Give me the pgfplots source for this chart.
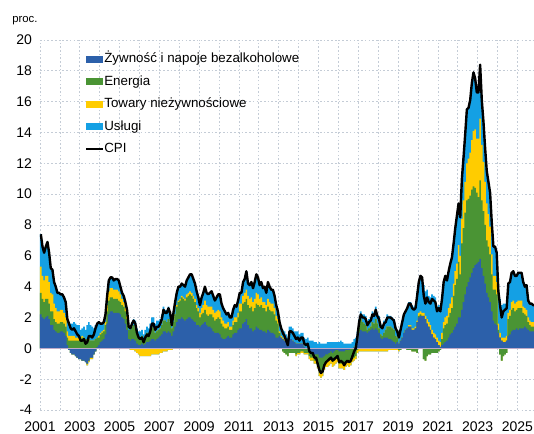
\documentclass[border=0pt]{standalone}
\usepackage{fontspec}
\setmainfont{Liberation Sans}
\usepackage{pgfplots}
\usepackage{pgfplotstable}
\pgfplotsset{compat=1.18}

\definecolor{food}{RGB}{44,96,170}
\definecolor{energy}{RGB}{74,148,52}
\definecolor{goods}{RGB}{255,204,0}
\definecolor{serv}{RGB}{20,160,228}
\definecolor{gridc}{RGB}{196,204,214}
\definecolor{zeroc}{RGB}{190,170,200}

% monthly contributions (p.p.), m = months since Jan 2001
% f food, e energy, g non-food goods, s services, c CPI y/y
\pgfplotstableread{
m f e g s c
0 2.2 1.4 1.7 2.1 7.4
1 2.0 1.2 1.5 1.9 6.6
2 1.9 1.1 1.4 1.8 6.2
3 2.0 1.2 1.5 1.9 6.6
4 2.1 1.1 1.5 2.2 6.9
5 1.9 1.0 1.4 1.9 6.2
6 1.5 0.9 1.2 1.6 5.2
7 1.5 0.9 1.1 1.6 5.1
8 1.2 0.7 1.0 1.4 4.3
9 1.1 0.6 0.9 1.4 4.0
10 1.0 0.6 0.8 1.2 3.6
11 1.0 0.6 0.8 1.2 3.6
12 1.1 0.6 0.8 1.0 3.5
13 1.1 0.6 0.8 1.0 3.5
14 1.0 0.6 0.7 1.0 3.3
15 0.8 0.6 0.6 1.0 3.0
16 0.2 0.5 0.4 0.8 1.9
17 -0.1 0.5 0.3 0.9 1.6
18 -0.3 0.5 0.3 0.8 1.3
19 -0.4 0.5 0.3 0.8 1.2
20 -0.4 0.5 0.3 0.9 1.3
21 -0.5 0.5 0.2 0.9 1.1
22 -0.6 0.5 0.2 0.8 0.9
23 -0.7 0.5 0.2 0.8 0.8
24 -0.7 0.6 0.1 0.5 0.5
25 -0.8 0.7 0.1 0.5 0.5
26 -0.8 0.7 0.0 0.7 0.6
27 -0.9 0.6 0.0 0.6 0.3
28 -1.0 0.6 -0.1 0.9 0.4
29 -0.8 0.6 -0.1 1.1 0.8
30 -0.6 0.5 -0.1 1.0 0.8
31 -0.6 0.5 -0.1 0.9 0.7
32 -0.4 0.5 0.0 0.8 0.9
33 -0.2 0.6 0.0 0.9 1.3
34 0.1 0.6 0.0 0.9 1.6
35 0.2 0.5 0.1 0.9 1.7
36 0.4 0.5 0.1 0.6 1.6
37 0.5 0.5 0.1 0.5 1.6
38 0.6 0.5 0.1 0.5 1.7
39 0.9 0.6 0.2 0.5 2.2
40 1.6 0.8 0.4 0.6 3.4
41 2.2 0.9 0.6 0.7 4.4
42 2.4 0.9 0.6 0.7 4.6
43 2.4 0.9 0.6 0.7 4.6
44 2.3 0.9 0.6 0.6 4.4
45 2.3 0.9 0.6 0.7 4.5
46 2.3 0.9 0.6 0.7 4.5
47 2.3 0.8 0.6 0.7 4.4
48 2.2 0.8 0.5 0.5 4.0
49 2.0 0.8 0.4 0.4 3.6
50 1.9 0.8 0.3 0.4 3.4
51 1.6 0.8 0.2 0.4 3.0
52 1.2 0.7 0.2 0.4 2.5
53 0.6 0.6 0.0 0.2 1.4
54 0.5 0.7 -0.1 0.2 1.3
55 0.6 0.8 -0.1 0.3 1.6
56 0.6 0.9 -0.1 0.4 1.8
57 0.5 0.8 -0.2 0.5 1.6
58 0.3 0.6 -0.3 0.4 1.0
59 0.2 0.5 -0.4 0.4 0.7
60 0.2 0.5 -0.5 0.4 0.6
61 0.3 0.5 -0.5 0.4 0.7
62 0.2 0.4 -0.5 0.3 0.4
63 0.3 0.5 -0.5 0.4 0.7
64 0.4 0.6 -0.5 0.4 0.9
65 0.4 0.5 -0.5 0.4 0.8
66 0.5 0.6 -0.5 0.5 1.1
67 0.6 0.8 -0.4 0.6 1.6
68 0.6 0.7 -0.4 0.7 1.6
69 0.5 0.5 -0.4 0.6 1.2
70 0.6 0.5 -0.4 0.7 1.4
71 0.7 0.5 -0.4 0.6 1.4
72 0.8 0.5 -0.3 0.6 1.6
73 0.9 0.6 -0.3 0.7 1.9
74 1.1 0.7 -0.2 0.9 2.5
75 1.1 0.7 -0.2 0.7 2.3
76 1.0 0.7 -0.2 0.8 2.3
77 1.1 0.8 -0.1 0.8 2.6
78 1.0 0.7 -0.1 0.7 2.3
79 0.8 0.5 -0.1 0.3 1.5
80 1.1 0.6 0.0 0.6 2.3
81 1.4 0.8 0.0 0.8 3.0
82 1.7 1.0 0.1 0.8 3.6
83 1.9 1.1 0.1 0.9 4.0
84 1.9 1.2 0.1 0.8 4.0
85 2.0 1.3 0.1 0.8 4.2
86 1.9 1.3 0.1 0.8 4.1
87 1.8 1.3 0.1 0.8 4.0
88 1.9 1.4 0.2 0.9 4.4
89 2.0 1.4 0.2 1.0 4.6
90 2.0 1.5 0.2 1.1 4.8
91 1.9 1.5 0.2 1.2 4.8
92 1.8 1.4 0.2 1.1 4.5
93 1.7 1.3 0.2 1.0 4.2
94 1.5 1.1 0.2 0.9 3.7
95 1.5 0.9 0.2 0.7 3.3
96 1.4 0.6 0.3 0.5 2.8
97 1.5 0.7 0.4 0.7 3.3
98 1.6 0.7 0.5 0.8 3.6
99 1.7 0.8 0.6 0.9 4.0
100 1.5 0.7 0.6 0.8 3.6
101 1.4 0.7 0.6 0.8 3.5
102 1.4 0.8 0.5 0.9 3.6
103 1.3 0.9 0.5 1.0 3.7
104 1.1 0.9 0.5 0.9 3.4
105 1.0 0.8 0.5 0.8 3.1
106 1.0 0.9 0.5 0.9 3.3
107 1.0 1.0 0.5 1.0 3.5
108 0.9 1.0 0.5 1.1 3.5
109 0.7 0.9 0.4 0.9 2.9
110 0.6 0.8 0.4 0.8 2.6
111 0.6 0.7 0.3 0.8 2.4
112 0.7 0.6 0.3 0.6 2.2
113 0.8 0.6 0.3 0.6 2.3
114 0.7 0.5 0.2 0.6 2.0
115 0.7 0.5 0.2 0.6 2.0
116 0.9 0.6 0.3 0.7 2.5
117 1.0 0.7 0.3 0.8 2.8
118 1.0 0.7 0.3 0.7 2.7
119 1.2 0.8 0.3 0.8 3.1
120 1.3 1.1 0.5 0.7 3.6
121 1.3 1.1 0.5 0.7 3.6
122 1.6 1.3 0.5 0.9 4.3
123 1.7 1.3 0.6 0.9 4.5
124 1.9 1.3 0.6 1.2 5.0
125 1.5 1.3 0.6 0.8 4.2
126 1.3 1.3 0.6 0.9 4.1
127 1.3 1.4 0.6 1.0 4.3
128 1.1 1.3 0.6 0.9 3.9
129 1.2 1.4 0.6 1.1 4.3
130 1.4 1.5 0.7 1.2 4.8
131 1.3 1.5 0.7 1.1 4.6
132 1.2 1.5 0.5 0.9 4.1
133 1.2 1.6 0.5 1.0 4.3
134 1.1 1.5 0.4 0.9 3.9
135 1.1 1.5 0.4 1.0 4.0
136 1.0 1.4 0.4 0.8 3.6
137 1.2 1.5 0.5 1.1 4.3
138 1.1 1.4 0.5 1.0 4.0
139 1.0 1.4 0.5 0.9 3.8
140 1.0 1.4 0.5 0.9 3.8
141 0.9 1.3 0.4 0.8 3.4
142 0.7 1.1 0.3 0.7 2.8
143 0.7 0.9 0.3 0.5 2.4
144 0.8 0.2 0.1 0.6 1.7
145 0.7 0.0 0.1 0.5 1.3
146 0.6 -0.2 0.1 0.5 1.0
147 0.5 -0.3 0.1 0.5 0.8
148 0.4 -0.4 0.0 0.5 0.5
149 0.3 -0.5 0.0 0.4 0.2
150 0.6 -0.3 0.0 0.8 1.1
151 0.6 -0.3 0.0 0.8 1.1
152 0.5 -0.3 0.0 0.8 1.0
153 0.4 -0.3 0.0 0.7 0.8
154 0.3 -0.4 -0.1 0.8 0.6
155 0.3 -0.3 -0.1 0.8 0.7
156 0.3 -0.3 -0.1 0.6 0.5
157 0.3 -0.2 -0.1 0.7 0.7
158 0.3 -0.2 -0.1 0.7 0.7
159 0.1 -0.3 -0.1 0.6 0.3
160 0.0 -0.3 -0.1 0.6 0.2
161 0.0 -0.3 -0.1 0.7 0.3
162 -0.2 -0.3 -0.2 0.5 -0.2
163 -0.3 -0.3 -0.2 0.5 -0.3
164 -0.3 -0.3 -0.2 0.5 -0.3
165 -0.4 -0.4 -0.2 0.4 -0.6
166 -0.4 -0.4 -0.2 0.4 -0.6
167 -0.4 -0.6 -0.3 0.3 -1.0
168 -0.6 -0.8 -0.4 0.4 -1.4
169 -0.6 -0.9 -0.4 0.3 -1.6
170 -0.6 -0.8 -0.4 0.3 -1.5
171 -0.5 -0.6 -0.3 0.3 -1.1
172 -0.4 -0.5 -0.3 0.3 -0.9
173 -0.4 -0.5 -0.3 0.4 -0.8
174 -0.3 -0.5 -0.3 0.4 -0.7
175 -0.2 -0.5 -0.3 0.4 -0.6
176 -0.3 -0.6 -0.3 0.4 -0.8
177 -0.2 -0.6 -0.3 0.4 -0.7
178 -0.1 -0.6 -0.3 0.4 -0.6
179 -0.1 -0.5 -0.3 0.4 -0.5
180 -0.2 -0.8 -0.3 0.4 -0.9
181 -0.2 -0.8 -0.3 0.5 -0.8
182 -0.2 -0.8 -0.3 0.4 -0.9
183 -0.2 -0.9 -0.3 0.3 -1.1
184 -0.1 -0.8 -0.3 0.3 -0.9
185 -0.1 -0.7 -0.3 0.3 -0.8
186 -0.1 -0.8 -0.3 0.3 -0.9
187 0.0 -0.8 -0.3 0.3 -0.8
188 0.0 -0.7 -0.2 0.4 -0.5
189 0.1 -0.6 -0.2 0.5 -0.2
190 0.2 -0.5 -0.2 0.5 0.0
191 0.5 -0.1 -0.2 0.6 0.8
192 1.0 0.6 -0.2 0.3 1.7
193 1.2 0.7 -0.2 0.5 2.2
194 1.1 0.6 -0.2 0.5 2.0
195 1.1 0.5 -0.2 0.6 2.0
196 1.1 0.4 -0.2 0.6 1.9
197 1.0 0.2 -0.2 0.5 1.5
198 1.1 0.2 -0.2 0.6 1.7
199 1.2 0.2 -0.2 0.6 1.8
200 1.3 0.4 -0.2 0.7 2.2
201 1.2 0.4 -0.2 0.7 2.1
202 1.3 0.6 -0.2 0.8 2.5
203 1.2 0.4 -0.2 0.7 2.1
204 1.0 0.3 -0.2 0.8 1.9
205 0.7 0.2 -0.2 0.7 1.4
206 0.6 0.2 -0.2 0.7 1.3
207 0.7 0.3 -0.2 0.8 1.6
208 0.7 0.5 -0.2 0.7 1.7
209 0.7 0.7 -0.2 0.8 2.0
210 0.6 0.8 -0.1 0.7 2.0
211 0.6 0.8 -0.1 0.7 2.0
212 0.5 0.8 -0.1 0.7 1.9
213 0.4 0.8 -0.1 0.7 1.8
214 0.3 0.5 -0.1 0.6 1.3
215 0.4 0.3 -0.1 0.5 1.1
216 0.3 -0.1 -0.1 0.6 0.7
217 0.5 -0.1 0.0 0.8 1.2
218 0.7 0.0 0.0 1.0 1.7
219 1.0 0.0 0.0 1.2 2.2
220 1.2 0.0 0.0 1.2 2.4
221 1.3 -0.1 0.0 1.4 2.6
222 1.4 -0.1 0.1 1.5 2.9
223 1.4 -0.1 0.1 1.5 2.9
224 1.2 -0.2 0.1 1.5 2.6
225 1.2 -0.2 0.1 1.4 2.5
226 1.3 -0.2 0.1 1.4 2.6
227 1.7 -0.3 0.1 1.9 3.4
228 2.0 0.1 0.2 2.0 4.3
229 2.1 0.1 0.2 2.3 4.7
230 2.1 0.0 0.2 2.3 4.6
231 2.1 -0.7 0.2 1.8 3.4
232 1.9 -0.8 0.2 1.6 2.9
233 1.6 -0.5 0.3 1.9 3.3
234 1.4 -0.4 0.3 1.7 3.0
235 1.2 -0.4 0.3 1.8 2.9
236 0.9 -0.3 0.3 2.3 3.2
237 0.7 -0.3 0.3 2.4 3.1
238 0.6 -0.3 0.3 2.4 3.0
239 0.4 -0.3 0.3 2.0 2.4
240 0.2 -0.2 0.3 2.3 2.6
241 0.1 -0.1 0.3 2.1 2.4
242 0.2 0.4 0.4 2.2 3.2
243 0.3 1.0 0.4 2.6 4.3
244 0.4 1.1 0.5 2.7 4.7
245 0.5 1.1 0.5 2.3 4.4
246 0.7 1.3 0.6 2.4 5.0
247 0.9 1.4 0.6 2.6 5.5
248 1.0 1.6 0.7 2.6 5.9
249 1.2 2.2 0.8 2.6 6.8
250 1.4 2.7 0.9 2.8 7.8
251 1.6 2.9 1.0 3.1 8.6
252 2.0 3.6 1.1 2.7 9.4
253 2.0 2.8 1.2 2.5 8.5
254 2.5 4.3 1.6 2.6 11.0
255 3.0 4.8 1.8 2.8 12.4
256 3.5 5.3 2.0 3.1 13.9
257 4.0 5.6 2.4 3.5 15.5
258 4.3 5.4 2.6 3.3 15.6
259 4.6 5.3 2.8 3.4 16.1
260 4.9 5.4 3.2 3.7 17.2
261 5.2 5.3 3.6 3.8 17.9
262 5.4 5.0 3.8 3.3 17.5
263 5.5 4.6 3.5 3.0 16.6
264 5.6 4.2 3.8 3.0 16.6
265 5.8 5.1 4.0 3.5 18.4
266 5.2 4.4 3.6 2.9 16.1
267 4.7 4.2 3.2 2.6 14.7
268 4.2 3.8 2.8 2.2 13.0
269 3.6 3.4 2.4 2.1 11.5
270 3.3 3.3 2.1 2.1 10.8
271 3.0 3.1 1.8 2.2 10.1
272 2.4 2.4 1.3 2.1 8.2
273 1.8 2.0 0.9 1.9 6.6
274 1.6 2.2 0.9 1.9 6.6
275 1.5 2.0 0.8 1.9 6.2
276 1.0 0.2 0.4 2.1 3.7
277 0.7 -0.4 0.3 2.2 2.8
278 0.5 -0.8 0.2 2.1 2.0
279 0.4 -0.5 0.3 2.2 2.4
280 0.4 -0.4 0.3 2.2 2.5
281 0.5 -0.3 0.3 2.1 2.6
282 0.8 1.1 0.4 1.9 4.2
283 0.9 1.2 0.4 1.8 4.3
284 1.1 1.4 0.5 1.9 4.9
285 1.2 1.4 0.5 1.9 5.0
286 1.2 1.2 0.5 1.8 4.7
287 1.3 1.2 0.5 1.7 4.7
288 1.2 1.4 0.5 1.8 4.9
289 1.3 1.3 0.5 1.8 4.9
290 1.3 1.3 0.5 1.8 4.9
291 1.3 1.0 0.4 1.6 4.3
292 1.4 0.8 0.4 1.4 4.0
293 1.3 0.8 0.4 1.6 4.1
294 1.2 0.5 0.3 1.1 3.1
295 1.1 0.4 0.3 1.1 2.9
296 1.1 0.3 0.3 1.2 2.9
297 1.1 0.3 0.3 1.1 2.8
298 1.1 0.3 0.3 1.1 2.8
}\cpidata

\begin{document}
\begin{tikzpicture}
\useasboundingbox (-30pt,-18pt) rectangle (370.5pt,307.5pt);
\begin{axis}[
  at={(0,0)}, anchor=south west,
  scale only axis, width=370.5pt, height=277.5pt,
  clip mode=individual,
  xmin=0, xmax=298, ymin=-4, ymax=20,
  xtick={0,24,...,288},
  xticklabels={2001,2003,2005,2007,2009,2011,2013,2015,2017,2019,2021,2023,2025},
  minor xtick={12,36,...,276},
  ytick={-4,-2,...,20},
  grid=both,
  major grid style={gridc, line width=0.5pt, dash pattern=on 1.2pt off 1.6pt},
  minor grid style={gridc, line width=0.5pt, dash pattern=on 1.2pt off 1.6pt},
  axis line style={draw=none},
  tick style={draw=none},
  tick label style={font=\fontsize{10.5}{12}\selectfont},
  /pgf/number format/assume math mode=true,
  yticklabel style={xshift=-2.5pt},
  xticklabel style={yshift=-5pt},
  legend style={at={(0.0911,0.966)}, anchor=north west, draw=none, fill=none,
    inner sep=0pt, row sep=7.6pt, column sep=0pt,
    font=\fontsize{10}{12}\selectfont,
    nodes={inner sep=0pt, text height=7.3pt, text depth=2pt}},
  legend cell align=left,
  legend image code/.code={\fill[#1] (0pt,-2.6pt) rectangle (12.5pt,2.6pt);},
]
\addlegendimage{fill=food, draw=none}
\addlegendentry{Żywność i napoje bezalkoholowe}
\addlegendimage{fill=energy, draw=none}
\addlegendentry{Energia}
\addlegendimage{fill=goods, draw=none}
\addlegendentry{Towary nieżywnościowe}
\addlegendimage{fill=serv, draw=none}
\addlegendentry{Usługi}
\addlegendimage{legend image code/.code={\draw[black, line width=1.8pt] (0pt,0pt) -- (12.5pt,0pt);}}
\addlegendentry{CPI}

% positive contributions, painted from the top of the stack down
\addplot[const plot, fill=serv, draw=none, forget plot] table[x=m,
  y expr={max(\thisrow{f},0)+max(\thisrow{e},0)+max(\thisrow{g},0)+max(\thisrow{s},0)}]{\cpidata} \closedcycle;
\addplot[const plot, fill=goods, draw=none, forget plot] table[x=m,
  y expr={max(\thisrow{f},0)+max(\thisrow{e},0)+max(\thisrow{g},0)}]{\cpidata} \closedcycle;
\addplot[const plot, fill=energy, draw=none, forget plot] table[x=m,
  y expr={max(\thisrow{f},0)+max(\thisrow{e},0)}]{\cpidata} \closedcycle;
\addplot[const plot, fill=food, draw=none, forget plot] table[x=m,
  y expr={max(\thisrow{f},0)}]{\cpidata} \closedcycle;

% negative contributions
\addplot[const plot, fill=serv, draw=none, forget plot] table[x=m,
  y expr={min(\thisrow{f},0)+min(\thisrow{e},0)+min(\thisrow{g},0)+min(\thisrow{s},0)}]{\cpidata} \closedcycle;
\addplot[const plot, fill=goods, draw=none, forget plot] table[x=m,
  y expr={min(\thisrow{f},0)+min(\thisrow{e},0)+min(\thisrow{g},0)}]{\cpidata} \closedcycle;
\addplot[const plot, fill=energy, draw=none, forget plot] table[x=m,
  y expr={min(\thisrow{f},0)+min(\thisrow{e},0)}]{\cpidata} \closedcycle;
\addplot[const plot, fill=food, draw=none, forget plot] table[x=m,
  y expr={min(\thisrow{f},0)}]{\cpidata} \closedcycle;

\addplot[zeroc, line width=0.6pt, forget plot] coordinates {(0,0) (298,0)};

\addplot[black, line width=1.8pt, line join=round, forget plot]
  table[x expr=\thisrow{m}+0.5, y=c]{\cpidata};

\node[anchor=west, inner sep=0pt, xshift=-21pt, yshift=14.5pt,
  font=\fontsize{8.5}{10}\selectfont] at (rel axis cs:0,1) {proc.};
\end{axis}
\end{tikzpicture}
\end{document}
